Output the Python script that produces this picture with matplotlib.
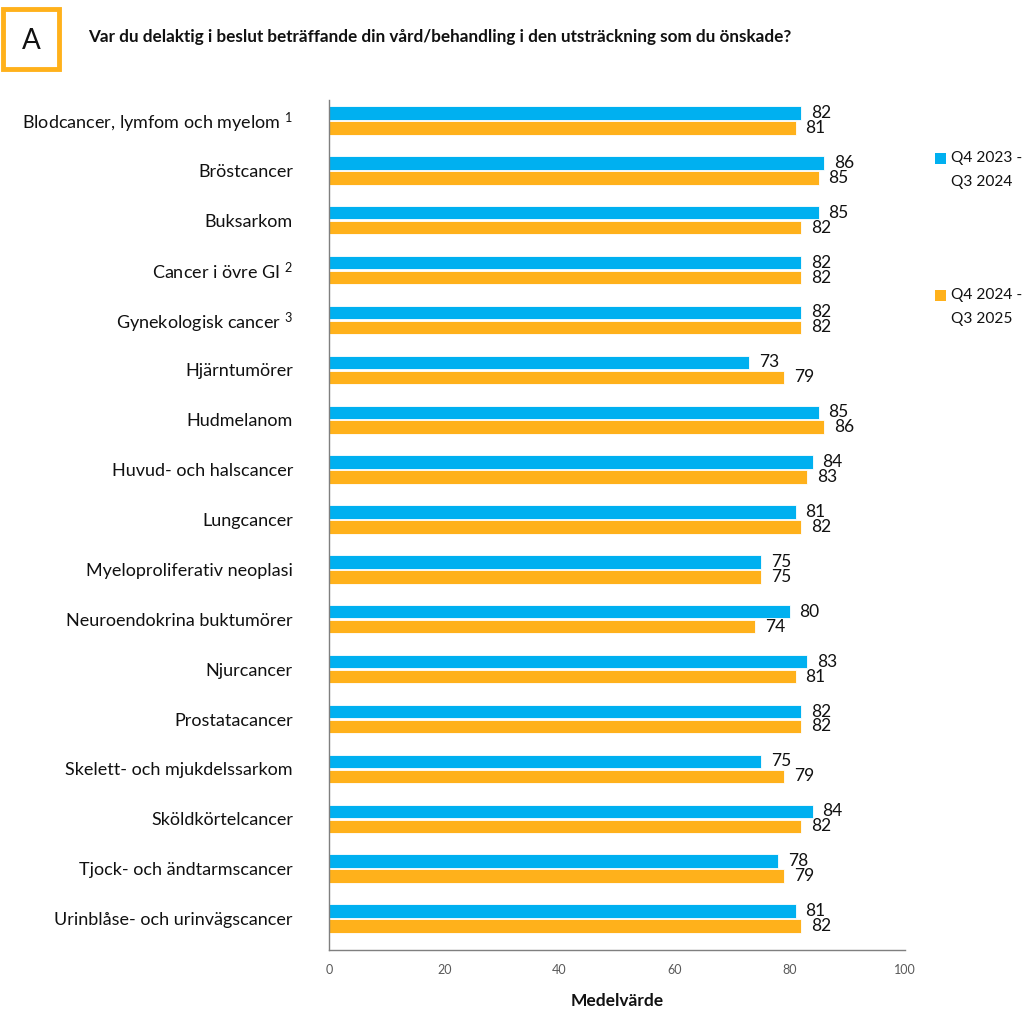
import matplotlib
matplotlib.use("Agg")
import matplotlib.pyplot as plt
from matplotlib.patches import Rectangle
import numpy as np

plt.rcParams['font.family'] = ['Lato', 'DejaVu Sans']
plt.rcParams['mathtext.fontset'] = 'custom'
plt.rcParams['mathtext.rm'] = 'Lato'
plt.rcParams['mathtext.it'] = 'Lato'
plt.rcParams['mathtext.bf'] = 'Lato:bold'

categories = [
    "Blodcancer, lymfom och myelom $^{1}$",
    "Bröstcancer",
    "Buksarkom",
    "Cancer i övre GI $^{2}$",
    "Gynekologisk cancer $^{3}$",
    "Hjärntumörer",
    "Hudmelanom",
    "Huvud- och halscancer",
    "Lungcancer",
    "Myeloproliferativ neoplasi",
    "Neuroendokrina buktumörer",
    "Njurcancer",
    "Prostatacancer",
    "Skelett- och mjukdelssarkom",
    "Sköldkörtelcancer",
    "Tjock- och ändtarmscancer",
    "Urinblåse- och urinvägscancer",
]
period_labels = [("Q4 2023 -", "Q3 2024"), ("Q4 2024 -", "Q3 2025")]
values_2023_24 = [82, 86, 85, 82, 82, 73, 85, 84, 81, 75, 80, 83, 82, 75, 84, 78, 81]
values_2024_25 = [81, 85, 82, 82, 82, 79, 86, 83, 82, 75, 74, 81, 82, 79, 82, 79, 82]
x_ticks = [0, 20, 40, 60, 80, 100]

title = "Var du delaktig i beslut beträffande din vård/behandling i den utsträckning som du önskade?"
x_label = "Medelvärde"

BLUE = "#00B0F0"
ORANGE = "#FFB11B"

fig = plt.figure(figsize=(10.27, 10.16), dpi=100)
ax = fig.add_axes([0.3204, 0.0650, 0.5608, 0.8366])

y = np.arange(len(categories))
h = 0.27
off = 0.15
ax.barh(y - off, values_2023_24, height=h, color=BLUE, edgecolor="white", linewidth=0.6)
ax.barh(y + off, values_2024_25, height=h, color=ORANGE, edgecolor="white", linewidth=0.6)

for yi, v in zip(y, values_2023_24):
    ax.annotate(f"{v}", (v, yi - off), xytext=(7, 0), textcoords="offset points",
                ha="left", va="center", fontsize=12.5, color="#111111")
for yi, v in zip(y, values_2024_25):
    ax.annotate(f"{v}", (v, yi + off), xytext=(7, 0), textcoords="offset points",
                ha="left", va="center", fontsize=12.5, color="#111111")

ax.set_xlim(0, 100)
ax.set_ylim(16.63, -0.41)
ax.set_yticks(y)
ax.set_yticklabels(categories, fontsize=13, color="#111111")
ax.set_xticks(x_ticks)
ax.set_xticklabels([str(t) for t in x_ticks], fontsize=9, color="#595959")
ax.tick_params(axis="both", length=0)
ax.tick_params(axis="y", pad=26)
ax.tick_params(axis="x", pad=10)
for s in ["top", "right"]:
    ax.spines[s].set_visible(False)
for s in ["left", "bottom"]:
    ax.spines[s].set_color("#7f7f7f")
    ax.spines[s].set_linewidth(1.0)

ax.set_xlabel(x_label, fontsize=12.5, fontweight="bold", labelpad=12, color="#111111")

# Title and panel letter
fig.text(88 / 1027, 1 - 37 / 1016, title, fontsize=12.3, fontweight="bold",
         ha="left", va="center", color="#111111")
fig.patches.append(Rectangle((3 / 1027, 1 - 69 / 1016), 56 / 1027, 60 / 1016,
                             transform=fig.transFigure, fill=False,
                             edgecolor=ORANGE, linewidth=3.5))
fig.text(31 / 1027, 1 - 41 / 1016, "A", fontsize=20, ha="center", va="center",
         color="#111111")

# Legend: colour square beside a two-line period label
for (ycen, color, (line1, line2)) in [(158, BLUE, period_labels[0]),
                                       (295, ORANGE, period_labels[1])]:
    fig.patches.append(Rectangle((935 / 1027, 1 - (ycen + 5.5) / 1016), 11 / 1027, 11 / 1016,
                                 transform=fig.transFigure, facecolor=color, edgecolor="none"))
    fig.text(951 / 1027, 1 - ycen / 1016, line1, fontsize=11.2, ha="left", va="center",
             color="#111111")
    fig.text(951 / 1027, 1 - (ycen + 24) / 1016, line2, fontsize=11.2, ha="left", va="center",
             color="#111111")

fig.savefig("out.png", dpi=100)
